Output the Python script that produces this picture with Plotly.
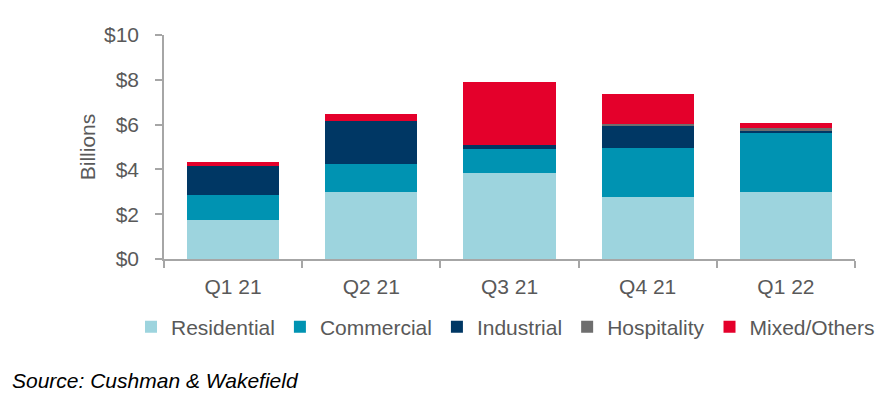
import plotly.graph_objects as go

quarters = ["Q1 21", "Q2 21", "Q3 21", "Q4 21", "Q1 22"]
residential = [1.74, 2.98, 3.83, 2.77, 2.99]
commercial = [1.12, 1.26, 1.08, 2.20, 2.64]
industrial = [1.31, 1.93, 0.16, 0.97, 0.10]
hospitality = [0.00, 0.00, 0.00, 0.09, 0.13]
mixed_others = [0.16, 0.30, 2.82, 1.34, 0.21]

series = [
    ("Residential", residential, "#9DD4DE"),
    ("Commercial", commercial, "#0093B2"),
    ("Industrial", industrial, "#003764"),
    ("Hospitality", hospitality, "#6E6E6E"),
    ("Mixed/Others", mixed_others, "#E4002B"),
]

fig = go.Figure()
for name, vals, color in series:
    fig.add_trace(go.Bar(x=quarters, y=vals, name=name, marker_color=color,
                         marker_line_width=0))

axis_color = "#A6A6A6"
text_color = "#595959"
font_family = "Liberation Sans, Arial, sans-serif"
fs = 21

W, H = 871, 383
L, R, T, B = 156, 24, 27, 132
pw, ph = W - L - R, H - T - B

fig.update_layout(
    barmode="stack",
    bargap=0.333,
    width=W, height=H,
    margin=dict(l=L, r=R, t=T, b=B, pad=0, autoexpand=False),
    plot_bgcolor="white", paper_bgcolor="white",
    font=dict(family=font_family, size=fs, color=text_color),
    showlegend=True,
    legend=dict(orientation="h", x=(123 - L) / pw, xanchor="left",
                y=-(319 - (H - B)) / ph, yanchor="middle",
                font=dict(size=fs, color=text_color), traceorder="normal",
                itemwidth=30, tracegroupgap=0),
    title=dict(text="<i>Source: Cushman & Wakefield</i>", xref="container", yref="container",
               x=4 / W, y=1 - 373 / H, xanchor="left", yanchor="middle",
               font=dict(size=fs, color="black", family=font_family)),
    xaxis=dict(showline=True, linecolor=axis_color, linewidth=1.5,
               ticks="outside", tickson="boundaries", ticklen=7,
               tickcolor=axis_color, tickwidth=1.5, ticklabelstandoff=8,
               tickfont=dict(size=fs, color=text_color)),
    yaxis=dict(range=[0, 10], dtick=2, tickprefix="$", showline=True,
               linecolor=axis_color, linewidth=1.5, ticks="outside", ticklen=7,
               tickcolor=axis_color, tickwidth=1.5, showgrid=False, zeroline=False,
               tickfont=dict(size=fs, color=text_color), ticklabelstandoff=12,
               title=dict(text="Billions", font=dict(size=fs, color=text_color), standoff=3)),
)

fig.write_html("out.html")
